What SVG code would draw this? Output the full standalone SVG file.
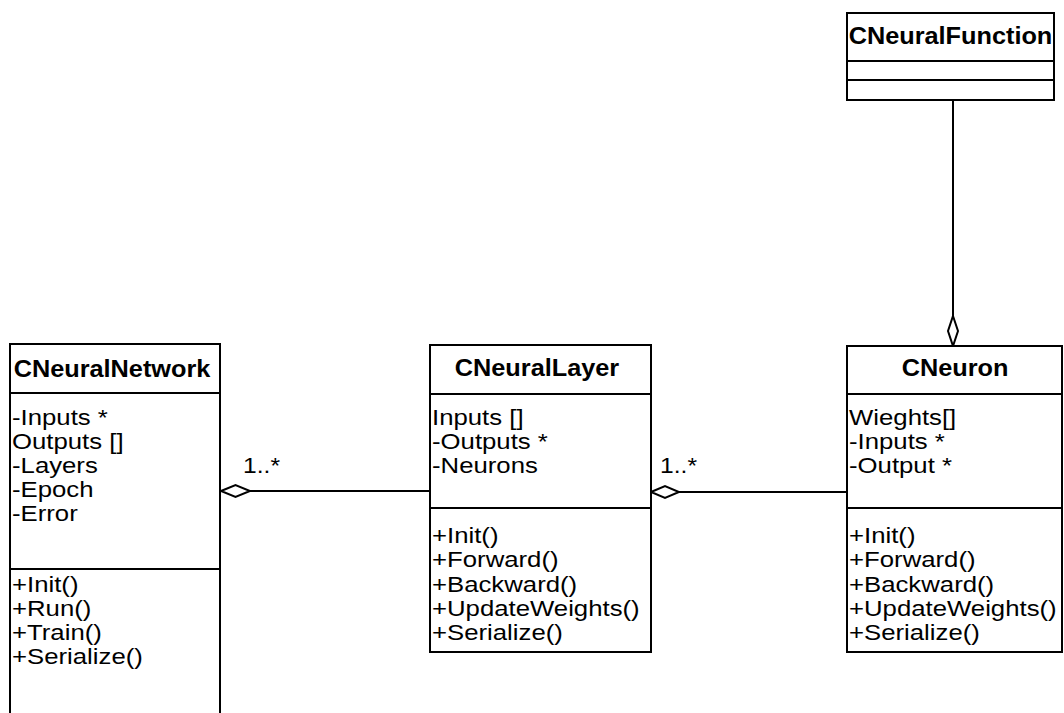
<svg xmlns="http://www.w3.org/2000/svg" width="1064" height="713" viewBox="0 0 1064 713">
  <style>
    .box { fill: #fff; stroke: #000; stroke-width: 2; }
    .sep { stroke: #000; stroke-width: 2; }
    .title { font-family: "Liberation Sans", Arial, sans-serif; font-size: 23px; font-weight: bold; fill: #000; text-anchor: middle; }
    .member { font-family: "Liberation Sans", Arial, sans-serif; font-size: 22px; fill: #000; }
    .mult { font-family: "Liberation Sans", Arial, sans-serif; font-size: 22px; fill: #000; }
    .edge { stroke: #000; stroke-width: 2; fill: none; }
    .agg { fill: #fff; stroke: #000; stroke-width: 2; }
  </style>
  <rect width="1064" height="713" fill="#fff"/>

  <!-- aggregation connectors -->
  <g id="connectors">
    <line class="edge" x1="250" y1="491" x2="430" y2="491"/>
    <polygon class="agg" points="221,491 235.5,485 250,491 235.5,497"/>
    <text class="mult" transform="translate(243 473) scale(1.12 1)">1..*</text>

    <line class="edge" x1="679" y1="492" x2="847" y2="492"/>
    <polygon class="agg" points="651,492 665,486 679,492 665,498"/>
    <text class="mult" transform="translate(660 473) scale(1.12 1)">1..*</text>

    <line class="edge" x1="953" y1="100" x2="953" y2="316"/>
    <polygon class="agg" points="953,316 958,331 953,346 948,331"/>
  </g>

  <!-- CNeuralFunction -->
  <g id="CNeuralFunction">
    <rect class="box" x="847" y="13" width="207" height="87"/>
    <line class="sep" x1="847" y1="61" x2="1054" y2="61"/>
    <line class="sep" x1="847" y1="80" x2="1054" y2="80"/>
    <text class="title" transform="translate(950.5 44) scale(1.1 1)">CNeuralFunction</text>
  </g>

  <!-- CNeuralNetwork -->
  <g id="CNeuralNetwork">
    <rect class="box" x="10" y="344" width="210" height="380"/>
    <line class="sep" x1="10" y1="393" x2="220" y2="393"/>
    <line class="sep" x1="10" y1="569" x2="220" y2="569"/>
    <text class="title" transform="translate(112 377) scale(1.1 1)">CNeuralNetwork</text>
    <text class="member" transform="translate(12 425) scale(1.17 1)">-Inputs *</text>
    <text class="member" transform="translate(12 449) scale(1.17 1)">Outputs []</text>
    <text class="member" transform="translate(12 473) scale(1.17 1)">-Layers</text>
    <text class="member" transform="translate(12 497) scale(1.17 1)">-Epoch</text>
    <text class="member" transform="translate(12 521) scale(1.17 1)">-Error</text>
    <text class="member" transform="translate(12 592) scale(1.17 1)">+Init()</text>
    <text class="member" transform="translate(12 616) scale(1.17 1)">+Run()</text>
    <text class="member" transform="translate(12 640) scale(1.17 1)">+Train()</text>
    <text class="member" transform="translate(12 664) scale(1.17 1)">+Serialize()</text>
  </g>

  <!-- CNeuralLayer -->
  <g id="CNeuralLayer">
    <rect class="box" x="430" y="345" width="221" height="307"/>
    <line class="sep" x1="430" y1="394" x2="651" y2="394"/>
    <line class="sep" x1="430" y1="508" x2="651" y2="508"/>
    <text class="title" transform="translate(537 376) scale(1.1 1)">CNeuralLayer</text>
    <text class="member" transform="translate(432 425) scale(1.17 1)">Inputs []</text>
    <text class="member" transform="translate(432 449) scale(1.17 1)">-Outputs *</text>
    <text class="member" transform="translate(432 473) scale(1.17 1)">-Neurons</text>
    <text class="member" transform="translate(432 543) scale(1.17 1)">+Init()</text>
    <text class="member" transform="translate(432 567) scale(1.17 1)">+Forward()</text>
    <text class="member" transform="translate(432 592) scale(1.17 1)">+Backward()</text>
    <text class="member" transform="translate(432 616) scale(1.17 1)">+UpdateWeights()</text>
    <text class="member" transform="translate(432 640) scale(1.17 1)">+Serialize()</text>
  </g>

  <!-- CNeuron -->
  <g id="CNeuron">
    <rect class="box" x="847" y="346" width="215" height="306"/>
    <line class="sep" x1="847" y1="394" x2="1062" y2="394"/>
    <line class="sep" x1="847" y1="508" x2="1062" y2="508"/>
    <text class="title" transform="translate(955 376) scale(1.1 1)">CNeuron</text>
    <text class="member" transform="translate(849 425) scale(1.17 1)">Wieghts[]</text>
    <text class="member" transform="translate(849 449) scale(1.17 1)">-Inputs *</text>
    <text class="member" transform="translate(849 473) scale(1.17 1)">-Output *</text>
    <text class="member" transform="translate(849 543) scale(1.17 1)">+Init()</text>
    <text class="member" transform="translate(849 567) scale(1.17 1)">+Forward()</text>
    <text class="member" transform="translate(849 592) scale(1.17 1)">+Backward()</text>
    <text class="member" transform="translate(849 616) scale(1.17 1)">+UpdateWeights()</text>
    <text class="member" transform="translate(849 640) scale(1.17 1)">+Serialize()</text>
  </g>
</svg>
